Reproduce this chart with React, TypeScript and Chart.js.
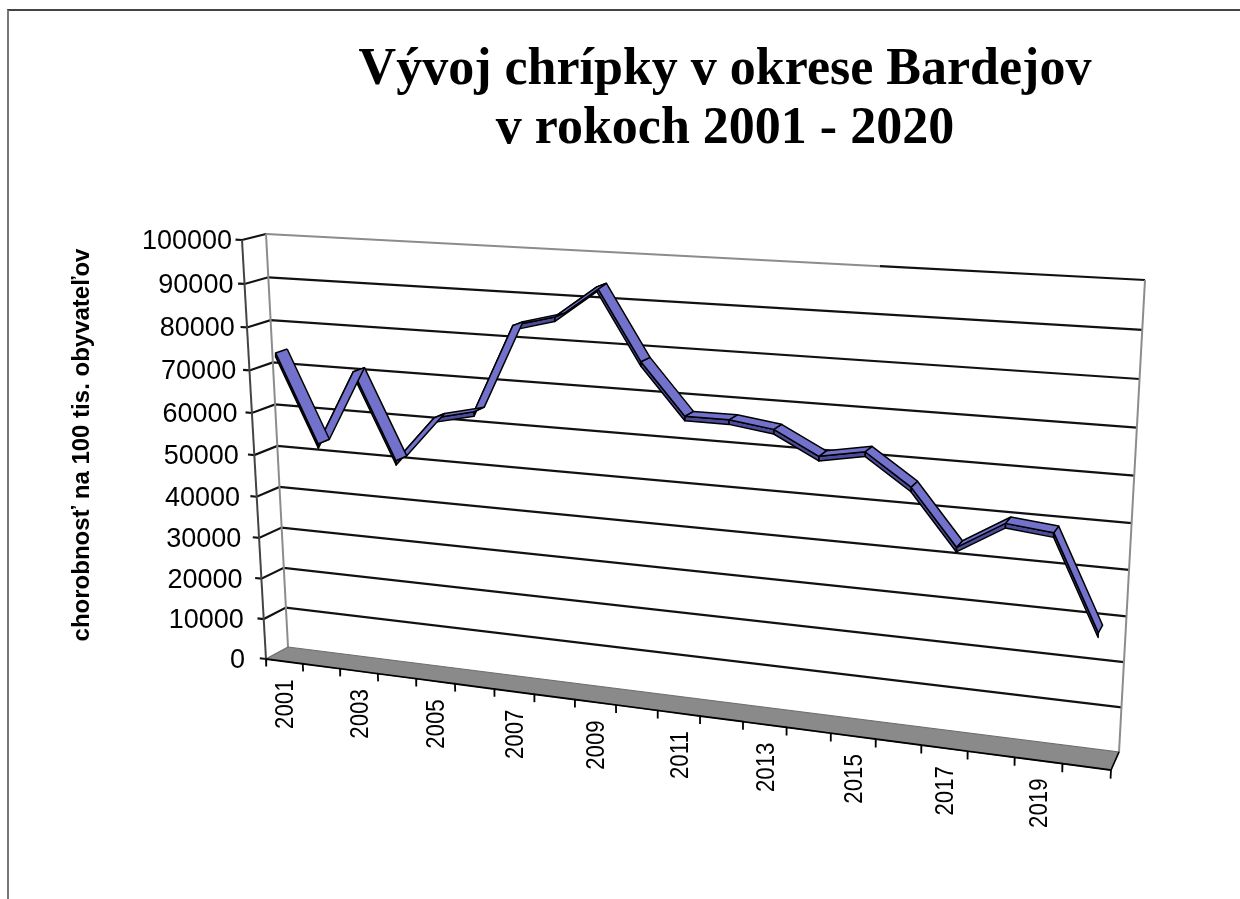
import React, { useEffect, useRef } from "react";
import { Chart, registerables, CategoryScale, LinearScale } from "chart.js";

const years = ["2001","2002","2003","2004","2005","2006","2007","2008","2009","2010","2011","2012","2013","2014","2015","2016","2017","2018","2019","2020"];
const incidence = [74000,53400,71000,51100,61800,64000,84000,86500,93600,78000,66800,66800,65500,60500,62300,55600,43600,49700,48700,28400];
const gridValues = [0,10000,20000,30000,40000,50000,60000,70000,80000,90000,100000];
const titleLines = ["Vývoj chrípky v okrese Bardejov", "v rokoch 2001 - 2020"];
const axisTitle = "chorobnosť na 100 tis. obyvateľov";

const LABEL_SQUEEZE = 0.89;
type P = [number, number];
function homography(p0: P, p1: P, p2: P, p3: P) {
  const [x0,y0]=p0,[x1,y1]=p1,[x2,y2]=p2,[x3,y3]=p3;
  const dx1=x1-x2,dx2=x3-x2,sx=x0-x1+x2-x3,dy1=y1-y2,dy2=y3-y2,sy=y0-y1+y2-y3;
  const den=dx1*dy2-dx2*dy1;
  const g=(sx*dy2-dx2*sy)/den,h=(dx1*sy-sx*dy1)/den;
  const a=x1-x0+g*x1,b=x3-x0+h*x3,d=y1-y0+g*y1,e=y3-y0+h*y3;
  return (s:number,t:number):P=>{const w=g*s+h*t+1;return [(a*s+b*t+x0)/w,(d*s+e*t+y0)/w];};
}
const backWall = homography([288,647],[1119,752],[1145,280],[266,234]);
const frontWall = homography([266,659],[1111,770],[1137,288],[242,240]);
function warp(s:number,v:number,d:number):P{
  const b=backWall(s,v),f=frontWall(s,v);
  return [b[0]+(f[0]-b[0])*d,b[1]+(f[1]-b[1])*d];
}

class WarpCategory extends CategoryScale {
  static id="warpCategory";
  static defaults=CategoryScale.defaults;
  _computeLabelArea(){return undefined as any;}
  _computeLabelItems(area:any){
    const items=(CategoryScale.prototype as any)._computeLabelItems.call(this,area);
    items.forEach((it:any,i:number)=>{
      const idx=(this as any).ticks[i].value;
      const [x,y]=warp((idx+0.5)/years.length,0,1);
      it.textOffset=0;
      it.options.rotation=-Math.PI/2;
      it.options.textAlign="right";
      it.options.textBaseline="middle";
      it.options.translation=[x+2,(y+18)/LABEL_SQUEEZE];
    });
    return items;
  }
  drawLabels(area:any){
    const ctx=(this as any).ctx;ctx.save();ctx.scale(1,LABEL_SQUEEZE);
    (CategoryScale.prototype as any).drawLabels.call(this,area);ctx.restore();
  }
}
class WarpLinear extends LinearScale {
  static id="warpLinear";
  static defaults=LinearScale.defaults;
  _computeLabelArea(){return undefined as any;}
  _computeLabelItems(area:any){
    const items=(LinearScale.prototype as any)._computeLabelItems.call(this,area);
    items.forEach((it:any,i:number)=>{
      const v=(this as any).ticks[i].value/100000;
      const [x,y]=warp(0,v,1);
      it.options.textAlign="right";
      it.options.translation=[x-10-(1-v)*11,y+1.5];
    });
    return items;
  }
  drawTitle(){
    const ctx=(this as any).ctx;ctx.save();ctx.translate(0,-68);
    (LinearScale.prototype as any).drawTitle.call(this);ctx.restore();
  }
}
Chart.register(...registerables,WarpCategory,WarpLinear);

const warpPlugin={
  id:"warp",
  afterDatasetsUpdate(chart:any){
    const xs=chart.scales.x,ys=chart.scales.y;
    const y0=ys.getPixelForValue(0),y1=ys.getPixelForValue(100000);
    chart.data.datasets.forEach((ds:any,i:number)=>{
      chart.getDatasetMeta(i).data.forEach((el:any,j:number)=>{
        const r=ds.data[j];
        const s=(el.x-xs.left)/xs.width+(r.e||0)/years.length;
        const [X,Y]=warp(s,(y0-el.y)/(y0-y1),r.d);
        el.x=X;el.y=Y;
      });
    });
  },
  afterLayout(chart:any){
    const tb=chart.titleBlock;
    tb.left=210;tb.right=1240;
  },
};

const FIRST=years[0],LAST=years[years.length-1];
const BACK=0.25,FRONT=0.75,THICK=1000,SHIFT=0.06;
function lineDs(label:string,data:any[],color:string,width:number,extra:any={}){
  return {label,data,borderColor:color,borderWidth:width,pointRadius:0,tension:0,fill:false,clip:false,borderJoinStyle:"miter",...extra};
}
function buildDatasets(){
  const top:any[]=[],side:any[]=[];
  const e=SHIFT;
  for(let i=0;i<years.length-1;i++){
    const a=years[i],b=years[i+1],va=incidence[i],vb=incidence[i+1];
    top.push(lineDs("top "+a,[{x:a,y:va,d:BACK,e},{x:b,y:vb,d:BACK,e},{x:b,y:vb,d:FRONT,e},{x:a,y:va,d:FRONT,e},{x:a,y:va,d:BACK,e}],"#000",1.5,{fill:"shape",backgroundColor:"#7272CC",borderJoinStyle:"round"}));
    side.push(lineDs("side "+a,[{x:a,y:va,d:FRONT,e},{x:b,y:vb,d:FRONT,e},{x:b,y:vb-THICK,d:FRONT,e},{x:a,y:va-THICK,d:FRONT,e},{x:a,y:va,d:FRONT,e}],"#000",1.5,{fill:"shape",backgroundColor:"#4C4C9A",borderJoinStyle:"round"}));
  }
  const grid=gridValues.filter(v=>v>0&&v<100000).map(v=>lineDs("grid "+v,[{x:FIRST,y:v,d:1,e:-0.67},{x:FIRST,y:v,d:1,e:-0.5},{x:FIRST,y:v,d:0,e:-0.5},{x:LAST,y:v,d:0,e:0.5}],"#111",2.2));
  const topGrid=lineDs("top edge",[{x:FIRST,y:100000,d:0,e:-0.5},{x:years[14],y:100000,d:0,e:0.07}],"#8c8c8c",2);
  const topGrid2=lineDs("top edge 2",[{x:years[14],y:100000,d:0,e:0.07},{x:LAST,y:100000,d:0,e:0.5}],"#111",2.2);
  const topTick=lineDs("top tick",[{x:FIRST,y:100000,d:1,e:-0.67},{x:FIRST,y:100000,d:1,e:-0.5},{x:FIRST,y:100000,d:0,e:-0.5}],"#111",2.2);
  const zeroTick=lineDs("zero tick",[{x:FIRST,y:0,d:1,e:-0.67},{x:FIRST,y:0,d:1,e:-0.5}],"#111",2);
  const walls=[
    lineDs("left wall",[{x:FIRST,y:0,d:0,e:-0.5},{x:FIRST,y:100000,d:0,e:-0.5}],"#8c8c8c",2),
    lineDs("right wall",[{x:LAST,y:0,d:0,e:0.5},{x:LAST,y:100000,d:0,e:0.5}],"#8c8c8c",2),
    lineDs("value axis",[{x:FIRST,y:0,d:1,e:-0.5},{x:FIRST,y:100000,d:1,e:-0.5}],"#444",2),
  ];
  const zig:any[]=[];
  for(let i=0;i<=years.length;i++){
    const k=Math.min(i,years.length-1),ee=i===years.length?0.5:-0.5;
    zig.push({x:years[k],y:0,d:1,e:ee},{x:years[k],y:-1900,d:1,e:ee},{x:years[k],y:0,d:1,e:ee});
  }
  const floorEdge=lineDs("category axis",zig,"#000",1.8);
  const rightEdge=lineDs("floor right",[{x:LAST,y:0,d:1,e:0.5},{x:LAST,y:0,d:0,e:0.5}],"#000",1.6);
  const floor=lineDs("floor",[{x:FIRST,y:0,d:0,e:-0.5},{x:LAST,y:0,d:0,e:0.5},{x:LAST,y:0,d:1,e:0.5},{x:FIRST,y:0,d:1,e:-0.5},{x:FIRST,y:0,d:0,e:-0.5}],"#6f6f6f",1.2,{fill:"shape",backgroundColor:"#8a8a8a"});
  return [...top,...side,floorEdge,rightEdge,floor,...walls,...grid,topGrid2,topGrid,topTick,zeroTick];
}

export default function App(){
  const ref=useRef<HTMLCanvasElement>(null);
  useEffect(()=>{
    const chart=new Chart(ref.current!,{
      type:"line",
      data:{labels:years,datasets:buildDatasets() as any},
      plugins:[warpPlugin],
      options:{
        animation:false,responsive:false,
        layout:{padding:{left:68,right:95,top:0,bottom:0}},
        plugins:{
          legend:{display:false},tooltip:{enabled:false},
          title:{display:true,text:titleLines,color:"#000",padding:{top:41,bottom:81},
            font:{family:"'Liberation Serif'",weight:"bold",size:52,lineHeight:59/52}},
        },
        scales:{
          x:{type:"warpCategory",offset:true,grid:{display:false},border:{display:false},
            afterFit(s:any){s.height=113;},
            ticks:{autoSkip:false,minRotation:90,maxRotation:90,color:"#000",
              font:{family:"'Liberation Sans'",size:25},
              callback:(_v:any,i:number)=>i%2===0?years[i]:""}},
          y:{type:"warpLinear",min:-30000,max:100000,grid:{display:false},border:{display:false},
            afterFit(s:any){s.width=174;},
            afterBuildTicks(s:any){s.ticks=s.ticks.filter((t:any)=>t.value>=0);},
            title:{display:true,text:axisTitle,color:"#000",padding:0,font:{family:"'Liberation Sans'",weight:"bold",size:24}},
            ticks:{stepSize:10000,autoSkip:false,color:"#000",font:{family:"'Liberation Sans'",size:27},
              callback:(v:any)=>String(v)}},
        },
      } as any,
    });
    return ()=>chart.destroy();
  },[]);
  return (
    <>
      <div style={{position:"fixed",left:7,top:9,right:0,bottom:0,borderTop:"2px solid #444",borderLeft:"2px solid #777"}}/>
      <canvas ref={ref} width={1240} height={899} style={{position:"fixed",left:0,top:0,display:"block"}}/>
    </>
  );
}
